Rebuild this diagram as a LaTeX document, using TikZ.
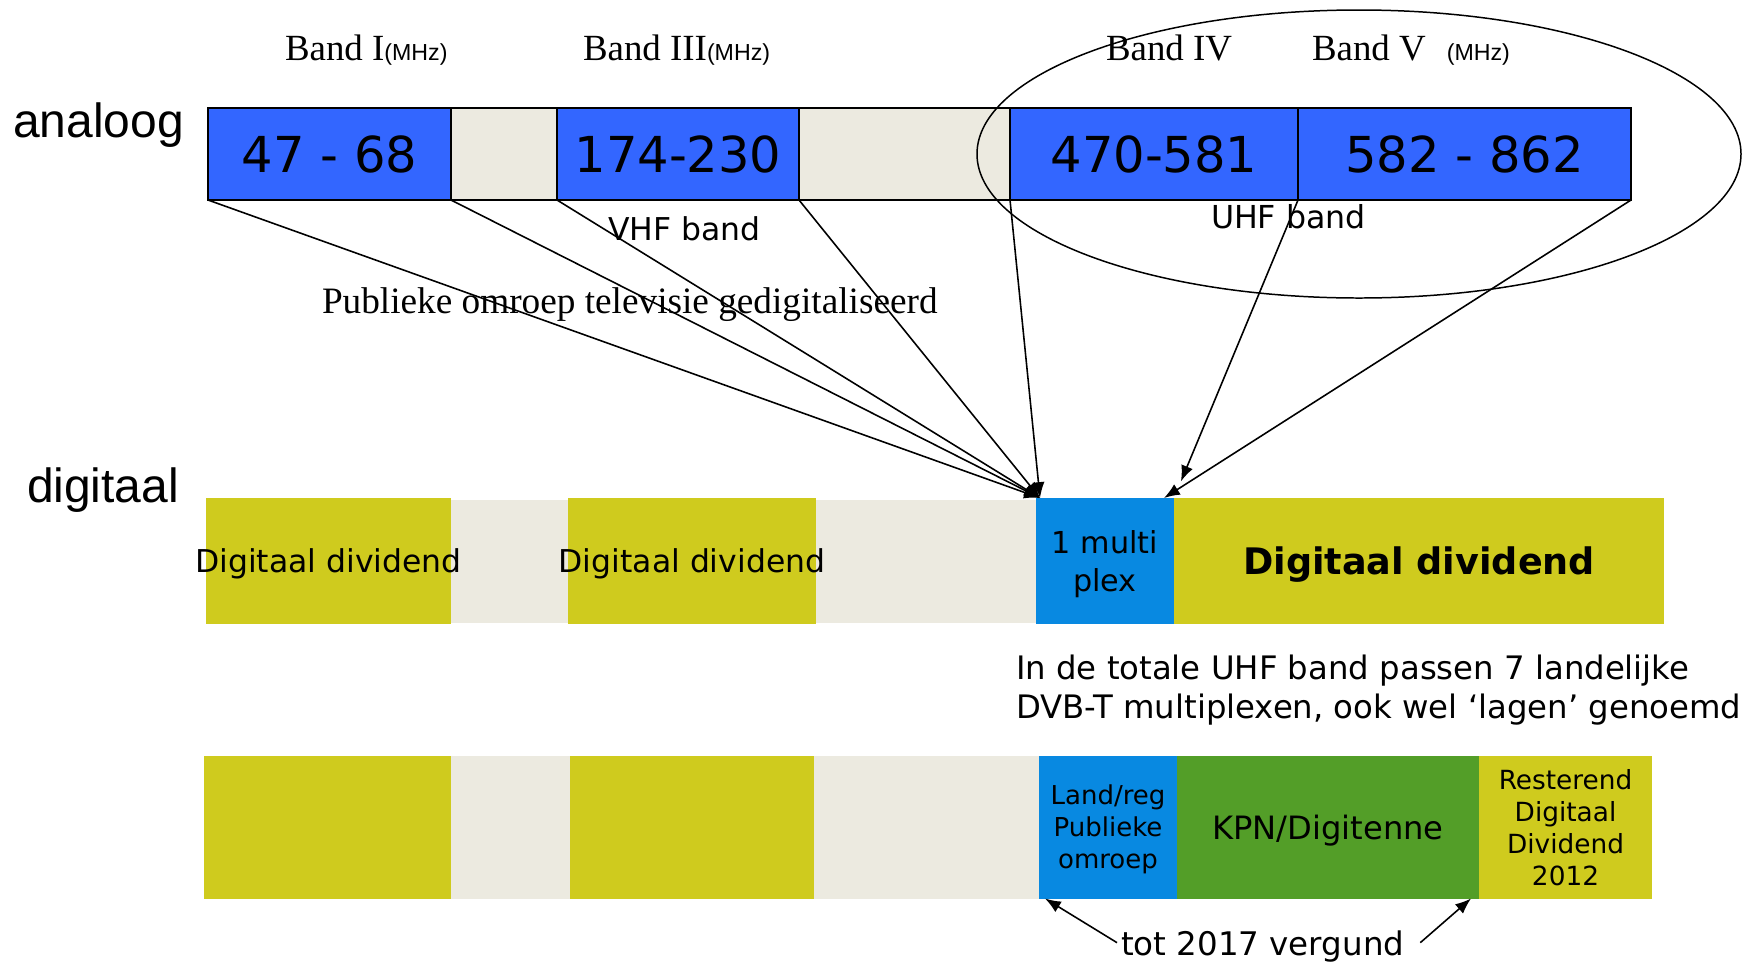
\documentclass[tikz,border=0pt]{standalone}
\usepackage{fontspec}
\setmainfont{DejaVu Sans}
\newfontfamily\tnrfont{Liberation Serif}
\newfontfamily\arfont{Liberation Sans}
\usetikzlibrary{positioning,arrows.meta}

\definecolor{uhfblue}{RGB}{51,102,255}
\definecolor{gapbeige}{RGB}{236,234,224}
\definecolor{divyellow}{RGB}{207,203,30}
\definecolor{muxblue}{RGB}{8,137,225}
\definecolor{kpngreen}{RGB}{83,158,40}

\newcommand{\fs}[2]{\fontsize{#1}{#2}\selectfont}
\newcommand{\mhz}{{\arfont\fs{13.2}{15}(MHz)}}

\begin{document}
\begin{tikzpicture}[x=0.2mm, y=-0.2mm,
    every node/.style={outer sep=0pt, text depth=0pt},
    anaband/.style={draw, line width=1.1pt, fill=uhfblue, minimum height=18.4mm, font=\fs{28.2}{32}},
    anagap/.style={anaband, fill=gapbeige},
    digbox/.style={fill=divyellow, minimum height=25.2mm},
    diggap/.style={fill=gapbeige, minimum height=24.6mm},
    licbox/.style={minimum height=28.6mm, align=center},
    bandlbl/.style={font=\tnrfont\fs{21}{24}, anchor=base west, inner sep=0pt},
    rowlbl/.style={font=\arfont\fs{27.3}{32}, anchor=base west, inner sep=0pt},
    >={Latex[length=9pt,width=7pt]}]
\useasboundingbox (0,0) rectangle (1747,962);

%Nodes
\node[anaband, minimum width=48.6mm, anchor=west] (A1) at (208,154) {47 - 68};
\node[anagap,  minimum width=21.2mm] (A2) [right=0pt of A1] {};
\node[anaband, minimum width=48.4mm] (A3) [right=0pt of A2] {174-230};
\node[anagap,  minimum width=42.2mm] (A4) [right=0pt of A3] {};
\node[anaband, minimum width=57.6mm] (A5) [right=0pt of A4] {470-581};
\node[anaband, minimum width=66.6mm] (A6) [right=0pt of A5] {582 - 862};

\node[digbox, minimum width=49mm, anchor=west] (D1) at (206,561) {};
\node[diggap, minimum width=23.4mm] (D2) [right=0pt of D1] {};
\node[digbox, minimum width=49.6mm] (D3) [right=0pt of D2] {};
\node[diggap, minimum width=44mm]   (D4) [right=0pt of D3] {};
\node[digbox, fill=muxblue, minimum width=27.6mm, align=center,
    font=\fs{17.2}{21.6}] (D5) [right=0pt of D4] {1 multi\\plex};
\node[digbox, minimum width=98mm, font=\bfseries\fs{20.8}{25}] (D6) [right=0pt of D5] {Digitaal dividend};
\node[font=\fs{17.9}{21}] (D1t) at (D1) {Digitaal dividend};
\node[font=\fs{17.9}{21}] (D3t) at (D3) {Digitaal dividend};

\node[licbox, fill=divyellow, minimum width=49.4mm, anchor=west] (L1) at (204,827) {};
\node[licbox, fill=gapbeige,  minimum width=23.8mm] (L2) [right=0pt of L1] {};
\node[licbox, fill=divyellow, minimum width=48.8mm] (L3) [right=0pt of L2] {};
\node[licbox, fill=gapbeige,  minimum width=45mm]   (L4) [right=0pt of L3] {};
\node[licbox, fill=muxblue,   minimum width=27.6mm, font=\fs{14.8}{18.2}] (L5) [right=0pt of L4] {Land/reg\\Publieke\\omroep};
\node[licbox, fill=kpngreen,  minimum width=60.4mm, font=\fs{18.3}{22}] (L6) [right=0pt of L5] {KPN/Digitenne};
\node[licbox, fill=divyellow, minimum width=34.6mm, font=\fs{15}{18.2}] (L7) [right=0pt of L6] {Resterend\\Digitaal\\Dividend\\2012};

%Labels
\node[rowlbl] (ana) at (13,137) {analoog};
\node[rowlbl] (dig) at (27,502) {digitaal};
\node[bandlbl] (B1) at (285,60)  {Band I\mhz};
\node[bandlbl] (B3) at (583,60)  {Band III\mhz};
\node[bandlbl] (B4) at (1106,60) {Band IV};
\node[bandlbl] (B5) at (1312,60) {Band V\hspace{4.2mm}\mhz};
\node[font=\fs{17.9}{21}, anchor=base west, inner sep=0pt] (vhf) at (608,240) {VHF band};
\node[font=\fs{18}{21}, anchor=base west, inner sep=0pt] (uhf) at (1211,228) {UHF band};
\node[font=\tnrfont\fs{21.2}{25}, anchor=base west, inner sep=0pt] (pub) at (322,313) {Publieke omroep televisie gedigitaliseerd};
\node[font=\fs{18.4}{21.9}, align=left, anchor=north west, inner sep=0pt] (uhfnote) at (1016,655)
    {In de totale UHF band passen 7 landelijke\\DVB-T multiplexen, ook wel ‘lagen’ genoemd};
\node[font=\fs{18.5}{21}, anchor=base west, inner sep=0pt] (lic) at (1121,955) {tot 2017 vergund};

%Lines
\draw[line width=0.85pt] (1359,154) ellipse [x radius=76.4mm, y radius=28.8mm];

\draw[->, line width=0.9pt] (A1.south west) -- ([xshift=0.8mm]D5.north west);
\draw[->, line width=0.9pt] (A2.south west) -- ([xshift=0.8mm]D5.north west);
\draw[->, line width=0.9pt] (A3.south west) -- ([xshift=0.8mm]D5.north west);
\draw[->, line width=0.9pt] (A3.south east) -- ([xshift=0.8mm]D5.north west);
\draw[->, line width=0.9pt] (A5.south west) -- ([xshift=0.8mm]D5.north west);
\draw[->, line width=0.9pt, shorten >=3.6mm] (A6.south west) -- (D5.north east);
\draw[->, line width=0.9pt] (A6.south east) -- ([xshift=-2mm]D5.north east);

\draw[->, line width=0.9pt] ([xshift=-0.8mm]lic.west) -- ([xshift=1.2mm]L5.south west);
\draw[->, line width=0.9pt] ([xshift=3.2mm]lic.east) -- ([xshift=-1.6mm]L6.south east);
\end{tikzpicture}
\end{document}
